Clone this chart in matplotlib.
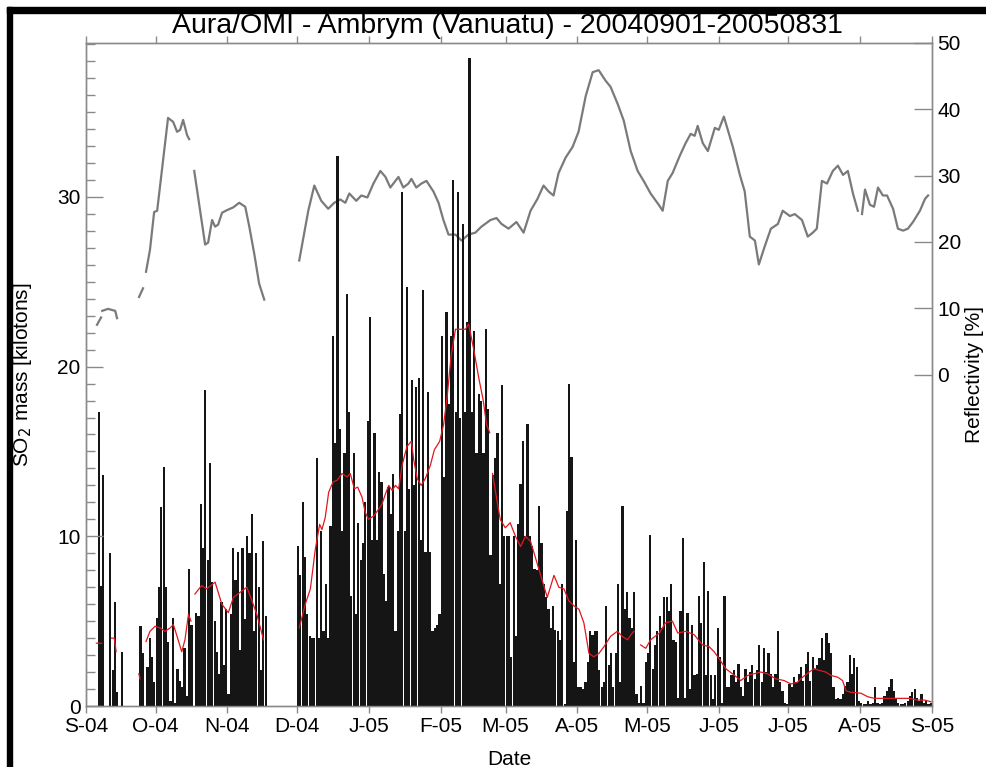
import numpy as np
import matplotlib
matplotlib.use("Agg")
import matplotlib.pyplot as plt
from matplotlib.patches import Rectangle
from matplotlib.ticker import MultipleLocator

nan = np.nan

# months on the x axis (Sep 2004 .. Aug 2005)
month_labels = ["S-04", "O-04", "N-04", "D-04", "J-05", "F-05", "M-05",
                "A-05", "M-05", "J-05", "J-05", "A-05", "S-05"]
month_lengths = [30, 31, 30, 31, 31, 28, 31, 30, 31, 30, 31, 31]

# daily SO2 mass [kilotons], nan = no data
so2_sep = [nan, nan, nan, nan, nan, 17.3, 7.1, 13.6, nan, nan, 9.0, 2.1, 6.1, 0.8, nan,
           3.2, nan, nan, nan, nan, nan, nan, nan, 4.7, 3.1, nan, 2.3, 4.0, 2.9, 1.4]
so2_oct = [5.2, 7.0, 11.7, 14.1, 7.0, 3.8, 0.3, 5.2, 0.2, 2.2, 1.5, 1.1, 3.4, 0.6, 8.1,
           4.8, nan, 5.5, 5.3, 11.9, 9.3, 18.6, 8.6, 14.3, 7.3, 5.0, 3.2, 1.9, 6.1, 2.4, 5.7]
so2_nov = [0.7, 5.4, 9.3, 7.4, 9.1, 3.3, 9.3, 5.1, 10.0, 9.0, 11.3, 4.4, 9.0, 7.0, 2.1,
           9.7, 5.3, nan, nan, nan, nan, nan, nan, nan, nan, nan, nan, nan, nan, nan]
so2_dec = [9.4, 7.7, 12.0, 8.8, 5.4, 4.1, 4.0, 4.0, 14.6, 4.0, 10.3, 4.4, 7.2, 4.0, 10.6,
           21.8, 15.5, 32.4, 16.3, 10.3, 14.9, 24.3, 17.3, 6.5, 14.9, 5.4, 10.8, 8.6, 9.6,
           12.0, 16.8]
so2_jan = [22.9, 9.8, 16.1, 9.8, 13.8, 13.2, 7.8, 6.2, 12.9, 11.3, 13.7, 4.4, 10.3, 17.2,
           30.3, 10.3, 24.7, 12.8, 19.2, 13.0, 18.8, 19.3, 9.8, 24.5, 9.1, 18.5, 9.1, 4.4,
           4.6, 4.8, 5.4]
so2_feb = [21.8, 13.5, 23.2, 17.8, 21.8, 31.0, 17.3, 30.3, 17.0, 28.4, 17.3, 22.6, 38.2,
           17.3, 22.1, 14.9, 18.4, 18.0, 14.9, 22.2, 17.5, 8.9, 13.6, 14.6, 16.1, 7.2,
           18.9, 10.0]
so2_mar = [10.0, 10.0, 2.9, 10.0, 4.1, 10.7, 13.1, 15.6, 10.0, 16.6, 10.0, 9.4, 8.1, 8.0,
           11.8, 9.6, 7.2, 6.4, 5.7, 4.6, 5.9, 4.5, 4.4, 3.9, 7.2, 0.1, 11.5, 19.0, 14.7,
           2.6, 9.8]
so2_apr = [1.1, 1.1, 1.0, 1.4, 2.6, 4.4, 4.2, 4.4, 4.4, 2.1, 1.1, 1.4, 5.9, 2.4, 3.1, 1.1,
           3.1, 7.2, 1.4, 11.8, 5.7, 6.7, 5.2, 4.6, 6.7, 0.7, 0.2, 1.2, 0.2, 2.6]
so2_may = [3.1, 10.1, 2.2, 3.6, 4.4, 5.3, 4.6, 6.4, 6.4, 5.6, 7.2, 3.9, 3.8, 0.5, 5.6, 9.9,
           0.5, 5.5, 1.0, 4.8, 1.8, 1.9, 6.5, 4.9, 8.5, 1.8, 6.8, 1.8, 0.4, 1.8, 4.6]
so2_jun = [2.9, 0.2, 6.5, 1.1, 1.1, 1.8, 2.1, 1.4, 2.5, 1.1, 0.6, 2.2, 1.4, 2.0, 2.4, 1.6,
           2.1, 3.6, 1.4, 3.4, 2.0, 3.1, 1.9, 1.1, 1.9, 4.4, 1.4, 0.9, 0.2, 0.1]
so2_jul = [1.3, 1.1, 1.7, 1.4, 1.9, 2.3, 1.5, 2.5, 3.2, 1.5, 2.9, 2.2, 2.4, 2.8, 4.0, 2.7,
           4.3, 3.7, 3.1, 1.1, 0.4, 0.5, 0.4, 0.7, 1.2, 1.4, 3.0, 1.9, 2.8, 2.3, 0.3]
so2_aug = [0.2, 0.1, 0.1, 0.3, 0.1, 0.2, 1.1, 0.2, 0.1, 0.2, 0.6, 0.9, 1.1, 1.6, 0.9, 0.5,
           0.2, 0.1, 0.1, 0.2, 0.3, 0.6, 0.8, 1.0, 0.5, 0.3, 0.7, 0.2, 0.3, 0.1, 0.2]

# running mean (red), day since 2004-09-01, nan breaks the line
mean_day = [4.5, 6.8, nan,
            11.0, 12.2, 13.0, nan,
            22.8, 23.3, nan,
            25.9, 27.6, 29.8, 32.0, 34.1, 36.3, 37.7, 39.3, 41.3, 42.7, 44.2, 45.3, nan,
            47.0, 49.9, 52.0, 55.7, 58.6, 61.4, 63.6, 66.5, 69.4, 71.6, 73.7, 76.6, nan,
            92.0, 94.6, 96.8, 98.9, 100.8, 101.8, 103.2, 104.7, 106.6, 108.3, 110.5, 112.6,
            114.0, 115.8, 117.2, 119.1, 120.5, 121.9, 124.1, 126.3, 127.7, 129.2, 130.6,
            132.1, 133.5, 134.9, 136.4, 138.5, 140.4, 141.4, 142.9, 144.6, 146.4, 148.6,
            150.3, 152.6, 154.3, 155.8, 157.5, 159.4, 161.6, 163.7, 165.1, 167.3, 169.5,
            171.4, 172.8, 174.2, nan,
            175.4, 177.2, 178.7, 180.9, 183.0, 185.3, 187.5, 189.6, 191.8, 194.0, 196.8,
            199.0, 201.9, 204.0, 206.2, 208.3, 210.5, 212.7, 214.8, 217.0, 219.1, 221.3,
            223.5, 226.3, 229.2, 231.4, 233.6, 235.7, 236.4, nan,
            239.3, 241.5, 243.6, 247.4, 250.0, 253.0, 255.3, 258.8, 262.4, 266.0, 268.8,
            271.0, 273.1, 276.0, 278.9, 282.5, 285.4, 288.2, 291.1, 294.0, 297.6, 301.2,
            304.1, 307.0, 309.2, 312.0, 314.2, 316.3, 319.2, 321.4, 324.3, 326.4, 327.9,
            330.0, 331.5, 334.4, 337.2, 340.1, 343.0, 347.3, 351.6, 355.2, 358.8, 361.7,
            364.6]
mean_val = [3.7, 3.7, nan,
            4.0, 4.0, 3.2, nan,
            1.9, 1.6, nan,
            3.8, 4.4, 4.7, 4.6, 4.4, 4.6, 4.8, 4.1, 3.2, 3.9, 5.4, 5.0, nan,
            6.6, 7.1, 6.9, 7.3, 6.0, 5.5, 6.4, 6.7, 7.0, 6.2, 5.4, 3.9, nan,
            4.6, 6.0, 6.9, 9.2, 10.7, 10.4, 11.1, 12.6, 13.2, 13.3, 13.7, 13.5,
            13.7, 12.8, 12.9, 12.3, 11.4, 11.0, 11.2, 11.6, 11.9, 12.5, 13.0,
            12.7, 13.0, 12.8, 14.2, 15.3, 15.6, 14.5, 13.4, 13.0, 13.4, 14.2,
            15.1, 15.6, 16.6, 18.2, 20.6, 22.2, 22.2, 22.2, 22.5, 21.0, 19.3,
            18.0, 16.6, 16.1, nan,
            13.7, 12.2, 11.0, 10.5, 10.8, 10.0, 9.4, 10.0, 9.7, 8.7, 7.4,
            6.4, 7.7, 7.0, 6.9, 6.2, 5.9, 5.7, 4.9, 3.1, 2.9, 3.1,
            3.5, 4.1, 4.4, 4.1, 3.9, 4.3, 4.4, nan,
            3.6, 3.4, 3.9, 4.3, 4.9, 5.0, 4.3, 4.4, 4.2, 3.6, 3.5,
            3.2, 2.8, 2.2, 1.9, 1.5, 1.8, 1.9, 2.0, 1.9, 1.6, 1.5,
            1.3, 1.4, 1.7, 2.0, 2.2, 2.1, 2.0, 1.8, 1.7, 1.5, 0.9,
            0.8, 0.8, 0.75, 0.55, 0.45, 0.45, 0.45, 0.45, 0.45, 0.35, 0.35,
            0.25]

# reflectivity [%] (gray), day since 2004-09-01
refl_day = [4.75, 6.5, nan,
            7.0, 9.5, 12.6, 13.4, nan,
            22.9, 24.6, nan,
            25.9, 27.6, 29.4, 30.7, 32.8, 35.4, 37.6, 39.3, 40.6, 41.9, 43.6, 44.5, nan,
            46.7, 49.2, 51.4, 52.7, 54.4, 55.7, 57.0, 58.7, 60.9, 63.5, 66.1, 68.7, 70.4,
            72.6, 74.7, 76.9, nan,
            92.0, 95.9, 98.5, 101.5, 104.5, 107.1, 109.7, 111.9, 113.6, 116.6, 118.8,
            121.4, 124.0, 127.0, 129.2, 131.3, 134.8, 136.9, 139.1, 140.4, 142.5, 144.7,
            146.9, 149.9, 152.1, 154.2, 156.4, 159.4, 162.0, 165.0, 168.0, 170.6, 174.5,
            177.1, 179.3, 182.3, 185.7, 188.8, 191.8, 194.8, 197.4, 199.6, 201.7, 203.9,
            206.9, 209.9, 212.5, 215.6, 218.6, 221.2, 224.2, 226.3, 229.4, 232.0, 235.0,
            238.0, 240.6, 243.6, 247.1, 248.8, 251.0, 253.1, 256.2, 258.7, 260.9, 262.6,
            263.9, 266.1, 268.3, 271.3, 273.0, 275.2, 276.9, 279.1, 282.1, 284.2, 286.4,
            288.6, 290.3, 292.9, 295.5, 298.5, 300.6, 303.7, 305.8, 308.9, 311.4, 313.6,
            315.3, 317.5, 319.7, 322.2, 324.4, 326.6, 328.7, 330.9, 333.0, nan,
            334.8, 336.1, 338.2, 340.0, 341.7, 343.8, 345.6, 348.2, 350.3, 352.5, 354.6,
            356.8, 359.8, 362.0, 363.3]
refl_val = [7.5, 8.6, nan,
            9.6, 9.9, 9.6, 8.5, nan,
            11.7, 13.0, nan,
            15.5, 18.8, 24.5, 24.7, 30.9, 38.7, 38.1, 36.6, 36.9, 38.4, 36.1, 35.5, nan,
            30.7, 24.8, 19.6, 19.9, 23.3, 22.3, 22.6, 24.4, 24.8, 25.2, 25.9, 25.3, 22.4,
            18.2, 13.7, 11.3, nan,
            17.2, 24.7, 28.5, 26.2, 25.0, 25.9, 26.4, 25.9, 27.3, 26.2, 27.0,
            26.7, 28.8, 30.7, 29.8, 28.2, 29.8, 28.2, 28.8, 29.5, 28.2, 28.8,
            29.2, 27.6, 25.9, 23.3, 21.1, 21.1, 20.2, 21.1, 21.4, 22.3, 23.3,
            23.6, 22.7, 22.0, 23.0, 21.4, 24.7, 26.5, 28.5, 27.6, 27.0, 30.4,
            32.7, 34.3, 36.6, 42.0, 45.6, 45.9, 44.3, 43.4, 40.8, 38.3, 33.7,
            30.7, 29.2, 27.3, 25.6, 24.7, 29.2, 30.4, 33.0, 34.9, 36.3, 36.0,
            37.5, 34.9, 33.7, 37.2, 36.9, 38.9, 36.9, 34.3, 30.1, 27.6, 20.8,
            20.2, 16.6, 19.4, 22.0, 22.7, 24.7, 23.9, 24.2, 23.3, 20.8, 21.4,
            22.0, 29.2, 28.8, 30.7, 31.5, 30.1, 30.7, 27.3, 24.7, nan,
            24.2, 27.9, 25.6, 25.3, 28.2, 27.0, 27.0, 25.0, 22.0, 21.7, 22.0,
            23.0, 24.7, 26.5, 27.0]

so2 = np.concatenate([so2_sep, so2_oct, so2_nov, so2_dec, so2_jan, so2_feb,
                      so2_mar, so2_apr, so2_may, so2_jun, so2_jul, so2_aug])
day = np.arange(len(so2)) + 0.5
month_starts = np.concatenate([[0], np.cumsum(month_lengths)])

plt.rcParams["font.family"] = ["Liberation Sans", "DejaVu Sans"]
grey = "#8a8a8a"
fs = 15

fig = plt.figure(figsize=(9.86, 7.67), dpi=100)
ax = fig.add_axes([86 / 986, 1 - 706 / 767, 846 / 986, 663 / 767])
ax2 = ax.twinx()
ax.set_zorder(ax2.get_zorder() + 1)
ax.patch.set_visible(False)

# reflectivity on the right axis, drawn underneath the bars
ax2.plot(refl_day, refl_val, color="#7a7a7a", lw=1.6)
ax2.set_ylim(-50, 50)
ax2.set_yticks(range(0, 51, 10))
ax2.tick_params(axis="y", direction="in", length=13, width=1, color=grey,
                labelsize=fs, pad=4)
ax2.set_ylabel("Reflectivity [%]", fontsize=fs)
ax2.yaxis.set_label_coords(1.039, 0.5)

ax.bar(day, so2, width=0.95, color="#151515", linewidth=0)
ax.plot(mean_day, mean_val, color="#e0181f", lw=0.9)

ax.set_xlim(0, month_starts[-1])
ax.set_ylim(0, 39.07)
ax.set_xticks(month_starts)
ax.set_xticklabels(month_labels)
ax.set_yticks([0, 10, 20, 30])
ax.yaxis.set_minor_locator(MultipleLocator(1))
ax.tick_params(axis="y", which="major", direction="in", length=12, width=1,
               color=grey, labelsize=fs, pad=4)
ax.tick_params(axis="y", which="minor", direction="in", length=6.5, width=1,
               color=grey)
ax.tick_params(axis="x", which="major", direction="out", length=5, width=1,
               color=grey, labelsize=fs, pad=3, top=True)

ax.set_ylabel("SO$_2$ mass [kilotons]", fontsize=fs)
ax.yaxis.set_label_coords(-0.062, 0.5)
ax.set_xlabel("Date", fontsize=fs)
ax.xaxis.set_label_coords(0.5, -0.066)

for a in (ax, ax2):
    for s in a.spines.values():
        s.set_color(grey)
        s.set_linewidth(1.0)

fig.text(507 / 986, 1 - 33 / 767, "Aura/OMI - Ambrym (Vanuatu) - 20040901-20050831",
         ha="center", va="baseline", fontsize=20.5)

# black frame lines along the top and left edge of the picture
fig.patches.append(Rectangle((7 / 986, 1 - 13 / 767), 1, 6 / 767,
                             transform=fig.transFigure, color="black"))
fig.patches.append(Rectangle((7 / 986, 0), 5 / 986, 1 - 7 / 767,
                             transform=fig.transFigure, color="black"))

fig.savefig("out.png", dpi=100)
